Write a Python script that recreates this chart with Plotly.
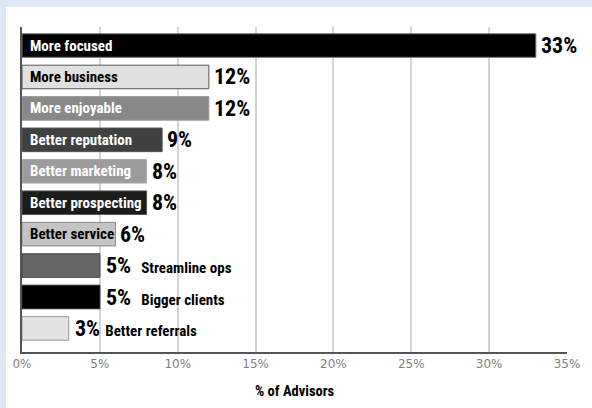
import plotly.graph_objects as go

# Survey results: share of advisors naming each benefit
categories = [
    "More focused", "More business", "More enjoyable", "Better reputation",
    "Better marketing", "Better prospecting", "Better service",
    "Streamline ops", "Bigger clients", "Better referrals",
]
values = [33, 12, 12, 9, 8, 8, 6, 5, 5, 3]
tick_vals = [0, 5, 10, 15, 20, 25, 30, 35]
tick_text = ["0%", "5%", "10%", "15%", "20%", "25%", "30%", "35%"]

# Styling per bar
fill_colors = ["#000000", "#e0e0e0", "#888888", "#404040", "#9c9c9c",
               "#1c1c1c", "#c4c4c4", "#666666", "#000000", "#e2e2e2"]
edge_colors = ["#777777", "#555555", "#999999", "#555555", "#aaaaaa",
               "#555555", "#888888", "#444444", "#222222", "#999999"]
label_colors = ["white", "black", "white", "white", "white",
                "white", "black", None, None, None]
label_inside = [True, True, True, True, True, True, True, False, False, False]
# spacing between the value and an outside category name
outside_gap = {"Streamline ops": "  ", "Bigger clients": "  ", "Better referrals": " "}

COND = "Roboto Condensed, Open Sans Condensed, sans-serif"

fig = go.Figure(go.Bar(
    x=values,
    y=categories,
    orientation="h",
    width=0.75,
    marker=dict(color=fill_colors, line=dict(color=edge_colors, width=1)),
    hoverinfo="skip",
))

annotations = []
for cat, val, inside, lc in zip(categories, values, label_inside, label_colors):
    if inside:
        annotations.append(dict(
            x=0, y=cat, xref="x", yref="y", xanchor="left", yanchor="middle",
            xshift=6, showarrow=False,
            text=f"<b>{cat}</b>",
            font=dict(family=COND, size=15, color=lc),
        ))
        annotations.append(dict(
            x=val, y=cat, xref="x", yref="y", xanchor="left", yanchor="middle",
            xshift=3, showarrow=False,
            text=f"<b>{val}%</b>",
            font=dict(family=COND, size=22, color="black"),
        ))
    else:
        gap = outside_gap.get(cat, " ")
        annotations.append(dict(
            x=val, y=cat, xref="x", yref="y", xanchor="left", yanchor="middle",
            xshift=4, showarrow=False,
            text=f"<b>{val}%</b>{gap}<b><span style='font-size:15px'>{cat}</span></b>",
            font=dict(family=COND, size=22, color="black"),
        ))

annotations.append(dict(
    x=0.5, y=-0.123, xref="paper", yref="paper", xanchor="center",
    yanchor="middle", showarrow=False, text="<b>% of Advisors</b>",
    font=dict(family=COND, size=14.5, color="black"),
))

fig.update_layout(
    width=592, height=408,
    margin=dict(l=22, r=25, t=27, b=56),
    paper_bgcolor="#dde8f6",
    plot_bgcolor="white",
    showlegend=False,
    annotations=annotations,
    shapes=[dict(
        type="rect", xref="paper", yref="paper", layer="below",
        x0=-0.0294, x1=1.06, y0=-0.2, y1=1.0615,
        fillcolor="white", line=dict(width=0),
    )],
    xaxis=dict(
        range=[0, 35], tickvals=tick_vals, ticktext=tick_text,
        showgrid=True, gridcolor="#d4d4d4", gridwidth=2,
        zeroline=False, showline=True, linecolor="#555555", linewidth=2,
        ticks="", tickfont=dict(family="DejaVu Sans", size=12, color="#808080"),
        fixedrange=True,
    ),
    yaxis=dict(
        categoryorder="array", categoryarray=categories,
        range=[9.75, -0.59], autorange=False,
        showticklabels=False, showgrid=False, zeroline=False,
        showline=True, linecolor="#555555", linewidth=1.5, ticks="",
        fixedrange=True,
    ),
)

fig.write_html("out.html")
